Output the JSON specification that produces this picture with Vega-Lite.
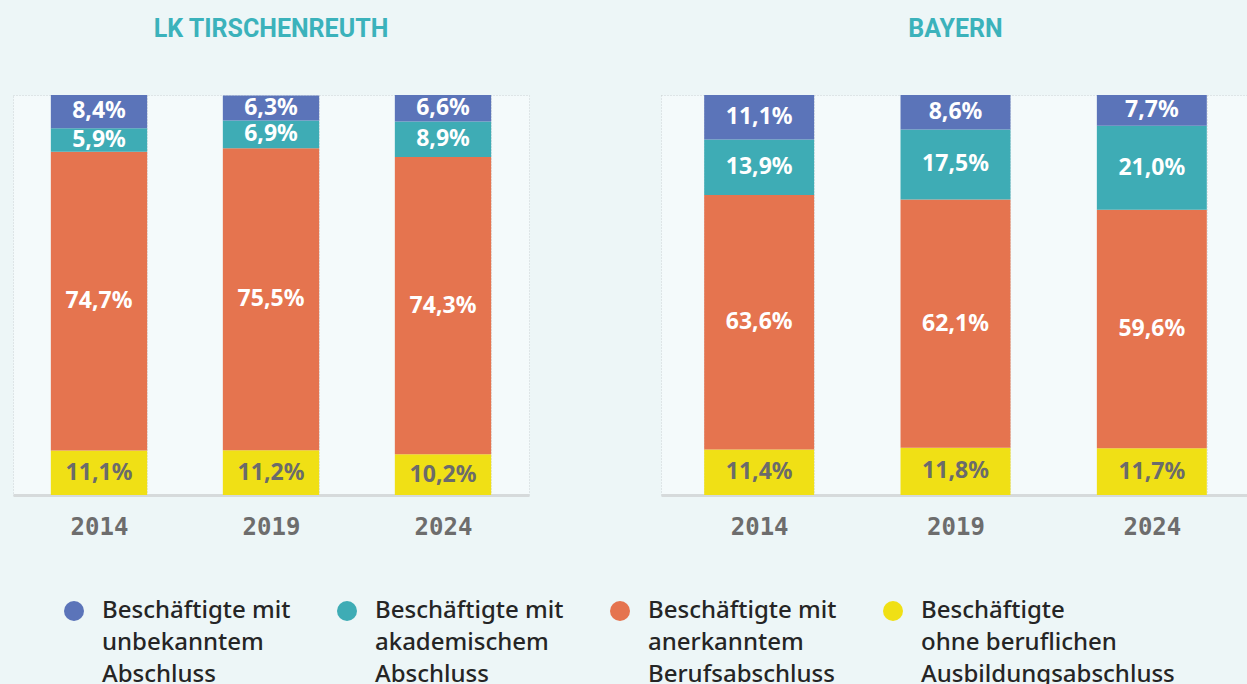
{
  "$schema": "https://vega.github.io/schema/vega-lite/v6.json",
  "background": "#edf6f7",
  "padding": {"left": 12, "top": 16, "right": 0, "bottom": 0},
  "data": {"values": [
    {"region": "LK Tirschenreuth", "year": "2014", "cat": "Beschäftigte mit unbekanntem Abschluss", "order": 4, "value": 8.4},
    {"region": "LK Tirschenreuth", "year": "2014", "cat": "Beschäftigte mit akademischem Abschluss", "order": 3, "value": 5.9},
    {"region": "LK Tirschenreuth", "year": "2014", "cat": "Beschäftigte mit anerkanntem Berufsabschluss", "order": 2, "value": 74.7},
    {"region": "LK Tirschenreuth", "year": "2014", "cat": "Beschäftigte ohne beruflichen Ausbildungsabschluss", "order": 1, "value": 11.1},
    {"region": "LK Tirschenreuth", "year": "2019", "cat": "Beschäftigte mit unbekanntem Abschluss", "order": 4, "value": 6.3},
    {"region": "LK Tirschenreuth", "year": "2019", "cat": "Beschäftigte mit akademischem Abschluss", "order": 3, "value": 6.9},
    {"region": "LK Tirschenreuth", "year": "2019", "cat": "Beschäftigte mit anerkanntem Berufsabschluss", "order": 2, "value": 75.5},
    {"region": "LK Tirschenreuth", "year": "2019", "cat": "Beschäftigte ohne beruflichen Ausbildungsabschluss", "order": 1, "value": 11.2},
    {"region": "LK Tirschenreuth", "year": "2024", "cat": "Beschäftigte mit unbekanntem Abschluss", "order": 4, "value": 6.6},
    {"region": "LK Tirschenreuth", "year": "2024", "cat": "Beschäftigte mit akademischem Abschluss", "order": 3, "value": 8.9},
    {"region": "LK Tirschenreuth", "year": "2024", "cat": "Beschäftigte mit anerkanntem Berufsabschluss", "order": 2, "value": 74.3},
    {"region": "LK Tirschenreuth", "year": "2024", "cat": "Beschäftigte ohne beruflichen Ausbildungsabschluss", "order": 1, "value": 10.2},
    {"region": "Bayern", "year": "2014", "cat": "Beschäftigte mit unbekanntem Abschluss", "order": 4, "value": 11.1},
    {"region": "Bayern", "year": "2014", "cat": "Beschäftigte mit akademischem Abschluss", "order": 3, "value": 13.9},
    {"region": "Bayern", "year": "2014", "cat": "Beschäftigte mit anerkanntem Berufsabschluss", "order": 2, "value": 63.6},
    {"region": "Bayern", "year": "2014", "cat": "Beschäftigte ohne beruflichen Ausbildungsabschluss", "order": 1, "value": 11.4},
    {"region": "Bayern", "year": "2019", "cat": "Beschäftigte mit unbekanntem Abschluss", "order": 4, "value": 8.6},
    {"region": "Bayern", "year": "2019", "cat": "Beschäftigte mit akademischem Abschluss", "order": 3, "value": 17.5},
    {"region": "Bayern", "year": "2019", "cat": "Beschäftigte mit anerkanntem Berufsabschluss", "order": 2, "value": 62.1},
    {"region": "Bayern", "year": "2019", "cat": "Beschäftigte ohne beruflichen Ausbildungsabschluss", "order": 1, "value": 11.8},
    {"region": "Bayern", "year": "2024", "cat": "Beschäftigte mit unbekanntem Abschluss", "order": 4, "value": 7.7},
    {"region": "Bayern", "year": "2024", "cat": "Beschäftigte mit akademischem Abschluss", "order": 3, "value": 21.0},
    {"region": "Bayern", "year": "2024", "cat": "Beschäftigte mit anerkanntem Berufsabschluss", "order": 2, "value": 59.6},
    {"region": "Bayern", "year": "2024", "cat": "Beschäftigte ohne beruflichen Ausbildungsabschluss", "order": 1, "value": 11.7}
  ]},
  "spacing": 130,
  "hconcat": [
    {
      "title": {"text": "LK TIRSCHENREUTH"},
      "width": 516,
      "height": 400,
      "transform": [
        {"filter": "datum.region == 'LK Tirschenreuth'"},
        {"stack": "value", "groupby": ["year"], "sort": [{"field": "order", "order": "ascending"}], "as": ["v0", "v1"]},
        {"calculate": "(datum.v0 + datum.v1) / 2", "as": "mid"},
        {"calculate": "replace(format(datum.value, '.1f'), '.', ',') + '%'", "as": "label"}
      ],
      "encoding": {
        "x": {"field": "year", "type": "nominal", "scale": {"paddingInner": 0.44, "paddingOuter": 0.22}}
      },
      "layer": [
        {
          "mark": {"type": "bar", "clip": true},
          "encoding": {
            "y": {"field": "v0", "type": "quantitative", "scale": {"domain": [0, 100]}, "axis": null},
            "y2": {"field": "v1"},
            "color": {
              "field": "cat", "type": "nominal",
              "scale": {
                "domain": ["Beschäftigte mit unbekanntem Abschluss", "Beschäftigte mit akademischem Abschluss", "Beschäftigte mit anerkanntem Berufsabschluss", "Beschäftigte ohne beruflichen Ausbildungsabschluss"],
                "range": ["#5b74b9", "#3eacb5", "#e5744f", "#f0e015"]
              },
              "legend": {
                "orient": "none", "legendX": 49, "legendY": 504,
                "direction": "horizontal", "columns": 4, "title": null,
                "labelExpr": "indexof(datum.label, 'ohne') >= 0 ? ['Beschäftigte', 'ohne beruflichen', 'Ausbildungsabschluss'] : ['Beschäftigte mit', split(datum.label, ' ')[2], split(datum.label, ' ')[3]]",
                "encode": {"labels": {"update": {"lineHeight": {"value": 32}}}}
              }
            },
            "order": {"field": "order", "type": "quantitative"}
          }
        },
        {
          "mark": {"type": "text", "font": "Noto Sans", "fontWeight": "bold", "fontSize": 23, "baseline": "middle", "clip": true},
          "encoding": {
            "y": {"field": "mid", "type": "quantitative", "scale": {"domain": [0, 100]}, "axis": null},
            "text": {"field": "label"},
            "color": {"condition": {"test": "datum.order == 1", "value": "#6b6b6b"}, "value": "#ffffff"}
          }
        }
      ]
    },
    {
      "title": {"text": "BAYERN"},
      "width": 589,
      "height": 400,
      "transform": [
        {"filter": "datum.region == 'Bayern'"},
        {"stack": "value", "groupby": ["year"], "sort": [{"field": "order", "order": "ascending"}], "as": ["v0", "v1"]},
        {"calculate": "(datum.v0 + datum.v1) / 2", "as": "mid"},
        {"calculate": "replace(format(datum.value, '.1f'), '.', ',') + '%'", "as": "label"}
      ],
      "encoding": {
        "x": {"field": "year", "type": "nominal", "scale": {"paddingInner": 0.44, "paddingOuter": 0.22}}
      },
      "layer": [
        {
          "mark": {"type": "bar", "clip": true},
          "encoding": {
            "y": {"field": "v0", "type": "quantitative", "scale": {"domain": [0, 100]}, "axis": null},
            "y2": {"field": "v1"},
            "color": {
              "field": "cat", "type": "nominal",
              "scale": {
                "domain": ["Beschäftigte mit unbekanntem Abschluss", "Beschäftigte mit akademischem Abschluss", "Beschäftigte mit anerkanntem Berufsabschluss", "Beschäftigte ohne beruflichen Ausbildungsabschluss"],
                "range": ["#5b74b9", "#3eacb5", "#e5744f", "#f0e015"]
              },
              "legend": {
                "orient": "none", "legendX": 49, "legendY": 504,
                "direction": "horizontal", "columns": 4, "title": null,
                "labelExpr": "indexof(datum.label, 'ohne') >= 0 ? ['Beschäftigte', 'ohne beruflichen', 'Ausbildungsabschluss'] : ['Beschäftigte mit', split(datum.label, ' ')[2], split(datum.label, ' ')[3]]",
                "encode": {"labels": {"update": {"lineHeight": {"value": 32}}}}
              }
            },
            "order": {"field": "order", "type": "quantitative"}
          }
        },
        {
          "mark": {"type": "text", "font": "Noto Sans", "fontWeight": "bold", "fontSize": 23, "baseline": "middle", "clip": true},
          "encoding": {
            "y": {"field": "mid", "type": "quantitative", "scale": {"domain": [0, 100]}, "axis": null},
            "text": {"field": "label"},
            "color": {"condition": {"test": "datum.order == 1", "value": "#6b6b6b"}, "value": "#ffffff"}
          }
        }
      ]
    }
  ],
  "resolve": {"scale": {"color": "shared"}},
  "config": {
    "view": {"stroke": "#cdd3d5", "strokeDash": [1, 2], "fill": "#f4fafb", "strokeWidth": 1},
    "axisX": {
      "title": null, "labelAngle": 0, "labelFont": "DejaVu Sans Mono", "labelFontWeight": "bold",
      "labelFontSize": 24, "labelColor": "#6d6d6d", "labelPadding": 20, "ticks": false,
      "domainColor": "#d6dadb", "domainWidth": 3, "grid": true, "gridColor": "#cdd3d5",
      "gridDash": [1, 2], "tickBand": "extent"
    },
    "title": {"font": "Roboto", "fontSize": 25, "fontWeight": "bold", "color": "#3bb2bb", "offset": 53, "anchor": "middle"},
    "legend": {
      "labelFont": "Noto Sans", "labelFontSize": 24, "labelFontWeight": 500, "labelColor": "#252525", "labelLimit": 400,
      "symbolType": "circle", "symbolSize": 400, "symbolStrokeWidth": 0, "symbolOpacity": 1,
      "labelOffset": 16, "columnPadding": 44, "padding": 0
    }
  }
}
